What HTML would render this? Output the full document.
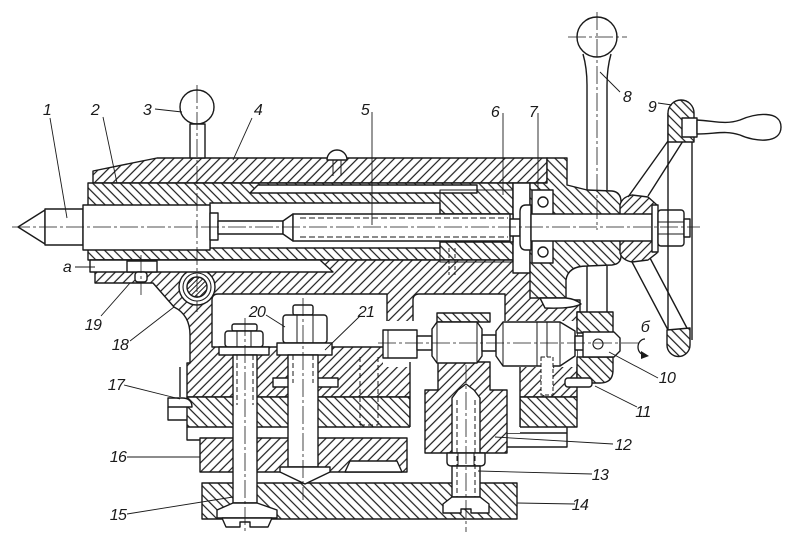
<!DOCTYPE html>
<html><head><meta charset="utf-8"><style>
html,body{margin:0;padding:0;background:#fff;}
svg{display:block;}
text{font-family:"Liberation Sans",sans-serif;font-style:italic;font-size:16px;letter-spacing:-0.6px;fill:#1a1a1a;}
</style></head><body>
<svg width="800" height="555" viewBox="0 0 800 555" xmlns="http://www.w3.org/2000/svg">
<defs>
<pattern id="hf" width="6.5" height="6.5" patternUnits="userSpaceOnUse" patternTransform="rotate(45)"><rect width="6.5" height="6.5" fill="#fff"/><line x1="1" y1="0" x2="1" y2="6.5" stroke="#1a1a1a" stroke-width="1.2"/></pattern>
<pattern id="hb" width="6.5" height="6.5" patternUnits="userSpaceOnUse" patternTransform="rotate(-45)"><rect width="6.5" height="6.5" fill="#fff"/><line x1="1" y1="0" x2="1" y2="6.5" stroke="#1a1a1a" stroke-width="1.2"/></pattern>
<pattern id="hs" width="3.5" height="3.5" patternUnits="userSpaceOnUse" patternTransform="rotate(45)"><rect width="3.5" height="3.5" fill="#fff"/><line x1="1" y1="0" x2="1" y2="3.5" stroke="#1a1a1a" stroke-width="1"/></pattern>
</defs>
<rect width="800" height="555" fill="#fff"/>
<g stroke="#1a1a1a" stroke-width="1.4" stroke-linejoin="round">
<!-- housing top band 4 -->
<path fill="url(#hf)" d="M93,171 L157,158 L547,158 L547,183 L93,183 Z"/>
<!-- quill 2 -->
<rect x="88" y="183" width="425" height="77" fill="url(#hb)"/>
<!-- lower body -->
<path fill="url(#hf)" d="M95,260 L565,260 L565,300 L580,300 L580,312 L577,312 L577,397 L187,397 L187,363 L190,363 L190,335 Q190,315 174,307 L153,283 L95,283 Z"/>
<!-- lower \ band -->
<rect x="187" y="397" width="223" height="30" fill="url(#hb)"/>
<rect x="520" y="397" width="57" height="30" fill="url(#hb)"/>
<!-- part 16 -->
<rect x="200" y="438" width="207" height="34" fill="url(#hf)"/>
<path fill="#fff" d="M345,472 L350,461 L397,461 L402,472 Z"/>
<path fill="none" d="M187,427 L187,440 L200,440"/>
<!-- base 14 -->
<rect x="202" y="483" width="315" height="36" fill="url(#hb)"/>
<path fill="none" d="M507,433 L567,433 L567,447 L507,447 M567,427 L567,433"/>
<!-- cavities -->
<path fill="#fff" d="M212,300 Q212,294 218,294 L387,294 L387,347 L212,347 Z"/>
<path fill="#fff" d="M413,300 Q413,294 419,294 L505,294 L505,322 L413,322 Z"/>
<rect x="383" y="321" width="194" height="46" fill="#fff" stroke="none"/>
<rect x="410" y="367" width="110" height="66" fill="#fff" stroke="none"/>
<path fill="none" d="M410,362 L410,427 M520,367 L520,427"/>
<!-- part 12 -->
<rect x="437" y="313" width="53" height="9" fill="url(#hb)"/>
<path fill="url(#hf)" d="M438,362 L490,362 L490,390 L507,390 L507,453 L425,453 L425,390 L438,390 Z"/>
<path fill="#fff" d="M452,398 L458,390 L466,384 L474,390 L480,398 L480,453 L452,453 Z"/>
<path fill="#fff" d="M447,453 L485,453 L485,462 Q485,466 480,466 L452,466 Q447,466 447,462 Z"/>
<path fill="none" stroke-width="1" d="M458,453 L458,466 M474,453 L474,466"/>
<rect x="452" y="466" width="28" height="31" fill="#fff"/>
<path fill="#fff" d="M452,497 L443,504 L443,513 L461,513 L461,509 L471,509 L471,513 L489,513 L489,504 L480,497 Z"/>
<path fill="none" stroke-width="1" stroke-dasharray="5 3" d="M457,400 L457,497 M475,400 L475,497"/>
<!-- right block -->
<rect x="577" y="312" width="36" height="21" fill="url(#hb)"/>
<path fill="url(#hb)" d="M577,357 L613,357 L613,370 Q613,383 600,383 L577,383 Z"/>
<!-- rollers -->
<rect x="383" y="330" width="34" height="28" fill="#fff"/>
<path fill="none" stroke-width="1" d="M388,330 L388,358"/>
<rect x="417" y="336" width="15" height="14" fill="#fff"/>
<path fill="#fff" d="M432,329 L437,322 L477,322 L482,329 L482,356 L477,363 L437,363 L432,356 Z"/>
<path fill="none" stroke-width="1" d="M437,322 L437,363 M477,322 L477,363"/>
<rect x="482" y="335" width="14" height="16" fill="#fff"/>
<path fill="#fff" d="M496,331 L503,322 L560,322 L575,331 L575,356 L560,366 L503,366 L496,356 Z"/>
<path fill="none" stroke-width="1" d="M503,322 L503,366 M537,322 L537,366 M547,322 L547,366 M560,322 L560,366"/>
<rect x="575" y="336" width="10" height="14" fill="#fff"/>
<path fill="#fff" d="M583,332 L614,332 L620,338 L620,351 L614,357 L583,357 Z"/>
<circle cx="598" cy="344" r="5" fill="none" stroke-width="1.1"/>
<rect x="541" y="357" width="12" height="38" fill="#fff" stroke-width="1" stroke-dasharray="4 2"/>
<rect x="565" y="378" width="27" height="9" rx="3" fill="#fff"/>
<!-- hidden screw -->
<path fill="none" stroke-width="1" stroke-dasharray="5 3" d="M360,357 L360,425 M378,357 L378,425 M360,425 L378,425"/>
<!-- bolt 15 -->
<rect x="232" y="324" width="25" height="7" rx="2" fill="#fff"/>
<rect x="225" y="331" width="38" height="16" rx="3" fill="#fff"/>
<path fill="none" stroke-width="1" d="M237,331 L237,347 M251,331 L251,347"/>
<rect x="219" y="347" width="50" height="8" fill="#fff"/>
<rect x="233" y="355" width="24" height="148" fill="#fff"/>
<path fill="none" stroke-width="1" stroke-dasharray="5 3" d="M237,355 L237,405 M253,355 L253,405"/>
<path fill="#fff" d="M233,503 L217,510 L217,518 L277,518 L277,510 L257,503 Z"/>
<path fill="#fff" d="M222,518 L272,518 L268,527 L250,527 L250,522 L240,522 L240,527 L226,527 Z"/>
<!-- bolt 21 / 20 -->
<rect x="293" y="305" width="20" height="10" rx="2" fill="#fff"/>
<rect x="283" y="315" width="44" height="28" rx="3" fill="#fff"/>
<path fill="none" stroke-width="1" d="M297,315 L297,343 M313,315 L313,343"/>
<rect x="277" y="343" width="55" height="12" fill="#fff"/>
<rect x="273" y="378" width="65" height="9" fill="#fff"/>
<rect x="288" y="355" width="30" height="112" fill="#fff"/>
<path fill="none" stroke-width="1" stroke-dasharray="5 3" d="M293,355 L293,383 M313,355 L313,383"/>
<path fill="#fff" d="M280,467 L330,467 L330,472 L305,484 L280,472 Z"/>
<!-- screw 18 -->
<circle cx="197" cy="287" r="18" fill="#fff"/>
<circle cx="197" cy="287" r="14" fill="none" stroke-width="1.1"/>
<circle cx="197" cy="287" r="10" fill="url(#hs)"/>
<!-- part 17 -->
<path fill="none" d="M180,367 L180,397"/>
<path fill="#fff" d="M168,398 L182,398 Q192,398 192,407 L168,407 Z"/>
<path fill="none" d="M168,407 L168,420 L187,420"/>
<!-- gap a, key 19 -->
<path fill="#fff" d="M90,260 L320,260 L333,272 L90,272 Z"/>
<rect x="127" y="261" width="30" height="11" fill="#fff"/>
<rect x="135" y="272" width="12" height="10" rx="3" fill="#fff"/>
<!-- gap before cap -->
<rect x="513" y="183" width="17" height="90" fill="#fff"/>
<!-- cap -->
<path fill="url(#hb)" d="M547,158 L567,158 L567,185 L587,190 L612,191 Q621,192 621,202 L621,256 Q621,264 612,265 L587,266 Q568,266 566,280 L566,298 L530,298 L530,183 L547,183 Z"/>
<path fill="#fff" d="M540,298 L566,298 Q576,299 581,304 Q572,309 545,308 Z"/>
<!-- slot, bore -->
<path fill="#fff" d="M258,185 L477,185 L477,193 L250,193 Z"/>
<rect x="210" y="203" width="230" height="45" fill="#fff"/>
<rect x="440" y="190" width="73" height="72" fill="none" stroke-width="1.1"/>
<rect x="440" y="214" width="73" height="28" fill="#fff"/>
<path fill="none" stroke-width="1" stroke-dasharray="4 2" d="M449,248 L449,275 M455,248 L455,275"/>
<!-- center 1 -->
<path fill="#fff" d="M18,227 L45,210 L45,244 Z"/>
<rect x="45" y="209" width="38" height="36" fill="#fff"/>
<rect x="83" y="205" width="127" height="45" fill="#fff"/>
<rect x="210" y="213" width="8" height="27" fill="#fff"/>
<!-- screw 5 -->
<rect x="218" y="221" width="65" height="13" fill="#fff"/>
<path fill="#fff" d="M283,221 L293,214 L293,241 L283,234 Z"/>
<rect x="293" y="214" width="217" height="27" fill="#fff"/>
<path fill="none" stroke-width="1" stroke-dasharray="6 3" d="M300,218 L508,218 M300,237 L508,237"/>
<rect x="510" y="219" width="10" height="17" fill="#fff"/>
<path fill="#fff" d="M520,212 Q520,205 526,205 L531,205 L531,250 L526,250 Q520,250 520,243 Z"/>
<!-- bearing -->
<rect x="532" y="190" width="21" height="73" fill="#fff"/>
<circle cx="543" cy="202" r="5" fill="#fff"/>
<circle cx="543" cy="252" r="5" fill="#fff"/>
<!-- hub -->
<path fill="url(#hf)" d="M620,205 Q622,197 632,195 L648,197 L657,205 L657,253 L648,260 L632,262 Q622,260 620,253 Z"/>
<rect x="531" y="214" width="121" height="27" fill="#fff"/>
<rect x="652" y="205" width="6" height="47" fill="#fff"/>
<rect x="658" y="210" width="26" height="36" rx="3" fill="#fff"/>
<path fill="none" stroke-width="1" d="M658,222 L684,222 M658,234 L684,234"/>
<rect x="684" y="219" width="6" height="18" fill="#fff"/>
<!-- handwheel -->
<path fill="none" d="M628,197 L668,141 M648,196 L683,141 M632,262 L668,330 M650,258 L688,330"/>
<path fill="none" d="M668,113 L668,345 M692,130 L692,340"/>
<path fill="url(#hb)" d="M668,142 L668,113 A13,13 0 0 1 694,113 L694,142 Z"/>
<path fill="url(#hb)" d="M667,330 L690,328 L690,345 A11.5,11.5 0 0 1 667,345 Z"/>
<rect x="682" y="118" width="15" height="19" fill="#fff"/>
<path fill="#fff" d="M697,120 C715,121 725,125 740,120 C755,113 781,110 781,127 C781,144 755,142 740,135 C725,130 715,134 697,134 Z"/>
<!-- handle 8 -->
<circle cx="597" cy="37" r="20" fill="#fff"/>
<path fill="none" d="M583,54 Q587,68 587,85 L587,190 M611,54 Q607,68 607,85 L607,190 M587,266 L587,312 M607,266 L607,312"/>
<!-- handle 3 -->
<circle cx="197" cy="107" r="17" fill="#fff"/>
<rect x="190" y="124" width="15" height="34" fill="#fff"/>
<!-- plug -->
<path fill="#fff" d="M327,160 A10,10 0 0 1 347,160 Z"/>
<path fill="none" stroke-width="1" d="M333,160 L333,176 M341,160 L341,176"/>
</g>
<!-- centerlines -->
<g stroke="#1a1a1a" stroke-width="0.8" fill="none" stroke-dasharray="18 3 3 3">
<path d="M12,227 L700,227"/>
<path d="M197,85 L197,312"/>
<path d="M378,343 L640,343"/>
<path d="M245,318 L245,532"/>
<path d="M303,298 L303,500"/>
<path d="M466,365 L466,532"/>
<path d="M597,12 L597,230"/>
<path d="M568,37 L627,37"/>
<path d="M141,255 L141,295"/>
</g>
<!-- leaders -->
<g stroke="#1a1a1a" stroke-width="0.9" fill="none">
<path d="M50,118 L67,218"/>
<path d="M103,117 L117,183"/>
<path d="M155,109 L182,112"/>
<path d="M252,118 L233,160"/>
<path d="M372,112 L372,225"/>
<path d="M503,113 L503,195"/>
<path d="M538,113 L538,190"/>
<path d="M620,92 L600,72"/>
<path d="M658,103 L672,105"/>
<path d="M658,378 L609,352"/>
<path d="M637,407 L595,386"/>
<path d="M613,444 L495,437"/>
<path d="M592,474 L478,471"/>
<path d="M575,504 L517,503"/>
<path d="M127,514 L233,497"/>
<path d="M127,457 L200,457"/>
<path d="M124,385 L180,399"/>
<path d="M130,341 L174,307"/>
<path d="M101,316 L130,283"/>
<path d="M266,315 L285,327"/>
<path d="M360,316 L325,350"/>
<path d="M75,267 L95,267"/>
<path stroke-width="1.3" d="M645,339 A7,8 0 1 0 645,355"/>
</g>
<path d="M641,351 L649,356 L641,359 Z" fill="#1a1a1a"/>
<!-- labels -->
<g text-anchor="middle">
<text x="47" y="115">1</text>
<text x="95" y="115">2</text>
<text x="147" y="115">3</text>
<text x="258" y="115">4</text>
<text x="365" y="115">5</text>
<text x="495" y="117">6</text>
<text x="533" y="117">7</text>
<text x="627" y="102">8</text>
<text x="652" y="112">9</text>
<text x="667" y="383">10</text>
<text x="643" y="417">11</text>
<text x="623" y="450">12</text>
<text x="600" y="480">13</text>
<text x="580" y="510">14</text>
<text x="118" y="520">15</text>
<text x="118" y="462">16</text>
<text x="116" y="390">17</text>
<text x="120" y="350">18</text>
<text x="93" y="330">19</text>
<text x="257" y="317">20</text>
<text x="366" y="317">21</text>
<text x="67" y="272">а</text>
<text x="645" y="332">б</text>
</g>
</svg>
</body></html>
